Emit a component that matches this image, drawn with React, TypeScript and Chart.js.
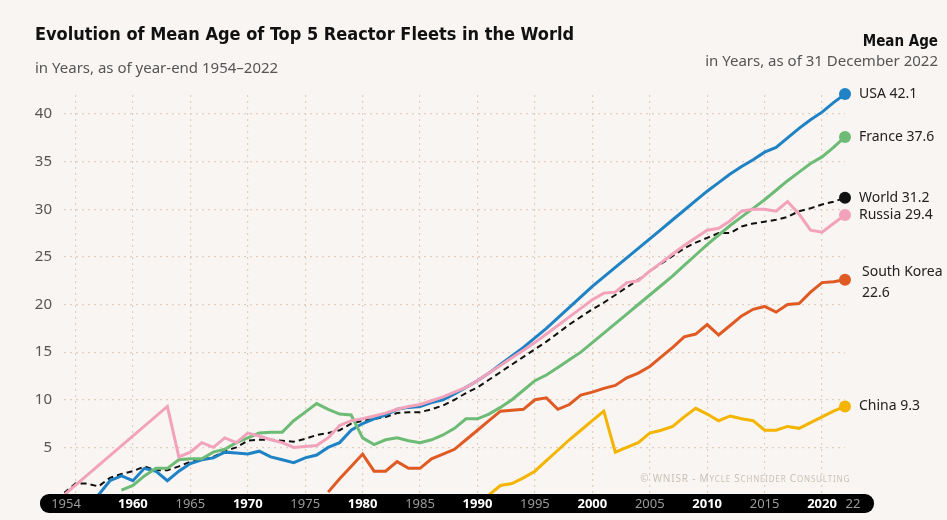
import React, { useEffect, useRef } from "react";
import { Chart, registerables } from "chart.js";
Chart.register(...registerables);

const usaStart = 1957;
const usa = [0, 1.5, 2, 1.5, 2.8, 2.5, 1.5, 2.5, 3.3, 3.7, 3.9, 4.5, 4.4, 4.3, 4.6, 4.0, 3.7, 3.4, 3.9, 4.2, 5, 5.5, 6.8, 7.5, 8.0, 8.4, 9.0, 9.2, 9.3, 9.7, 10.0, 10.6, 11.3, 12, 12.8, 13.7, 14.6, 15.5, 16.5, 17.5, 18.6, 19.7, 20.8, 21.9, 22.9, 23.9, 24.9, 25.9, 26.9, 27.9, 28.9, 29.9, 30.9, 31.9, 32.8, 33.7, 34.5, 35.2, 36.0, 36.5, 37.5, 38.5, 39.4, 40.2, 41.2, 42.1];
const franceStart = 1959;
const france = [0.5, 1, 2, 2.8, 2.8, 3.7, 3.8, 3.8, 4.5, 4.8, 5.5, 6, 6.5, 6.6, 6.6, 7.8, 8.7, 9.6, 9.0, 8.5, 8.4, 6, 5.3, 5.8, 6.0, 5.7, 5.5, 5.8, 6.3, 7, 8, 8, 8.5, 9.2, 10, 11, 12, 12.6, 13.4, 14.2, 15, 16, 17, 18, 19, 20, 21, 22, 23, 24.1, 25.2, 26.3, 27.3, 28.3, 29.2, 30.1, 31, 32, 33, 33.9, 34.8, 35.5, 36.5, 37.6];
const worldStart = 1954;
const world = [0.2, 1.2, 1.2, 0.9, 1.8, 2.2, 2.5, 3, 2.6, 2.6, 3.0, 3.5, 3.7, 4, 4.6, 5.0, 5.7, 5.8, 5.8, 5.7, 5.6, 5.9, 6.3, 6.5, 6.8, 7.5, 7.8, 8.0, 8.2, 8.6, 8.7, 8.7, 9.0, 9.4, 10, 10.7, 11.3, 12.1, 12.9, 13.7, 14.5, 15.3, 16.1, 17, 17.9, 18.7, 19.5, 20.2, 21, 21.8, 22.6, 23.5, 24.3, 25.1, 25.9, 26.5, 27, 27.5, 27.5, 28.2, 28.5, 28.7, 28.9, 29.2, 29.8, 30.1, 30.5, 30.8, 31.2];
const russiaYears = [1954, 1963, 1964, 1965, 1966, 1967, 1968, 1969, 1970, 1971, 1972, 1973, 1974, 1975, 1976, 1977, 1978, 1979, 1980, 1981, 1982, 1983, 1984, 1985, 1986, 1987, 1988, 1989, 1990, 1991, 1992, 1993, 1994, 1995, 1996, 1997, 1998, 1999, 2000, 2001, 2002, 2003, 2004, 2005, 2006, 2007, 2008, 2009, 2010, 2011, 2012, 2013, 2014, 2015, 2016, 2017, 2018, 2019, 2020, 2021, 2022];
const russia = [0, 9.3, 4, 4.5, 5.5, 5, 6, 5.5, 6.5, 6.2, 5.8, 5.5, 5.0, 5.1, 5.2, 6, 7.3, 7.8, 8, 8.3, 8.6, 9.0, 9.3, 9.5, 9.9, 10.3, 10.8, 11.3, 12, 12.8, 13.6, 14.4, 15.2, 16, 16.9, 17.8, 18.7, 19.6, 20.5, 21.2, 21.3, 22.3, 22.5, 23.5, 24.4, 25.3, 26.2, 27.0, 27.8, 28, 28.8, 29.8, 30, 30, 29.8, 30.8, 29.5, 27.8, 27.6, 28.5, 29.4];
const koreaStart = 1977;
const korea = [0.3, 1.7, 3, 4.3, 2.5, 2.5, 3.5, 2.8, 2.8, 3.8, 4.3, 4.8, 5.8, 6.8, 7.8, 8.8, 8.9, 9, 10, 10.2, 9, 9.5, 10.5, 10.8, 11.2, 11.5, 12.3, 12.8, 13.5, 14.5, 15.5, 16.6, 16.9, 17.9, 16.8, 17.8, 18.8, 19.5, 19.8, 19.2, 20, 20.1, 21.3, 22.3, 22.4, 22.6];
const chinaStart = 1991;
const china = [0, 1, 1.2, 1.8, 2.5, 3.6, 4.7, 5.8, 6.8, 7.8, 8.8, 4.5, 5, 5.5, 6.5, 6.8, 7.2, 8.2, 9.1, 8.5, 7.8, 8.3, 8, 7.8, 6.8, 6.8, 7.2, 7, 7.6, 8.2, 8.8, 9.3];

const yTicks = [5, 10, 15, 20, 25, 30, 35, 40];
const xLabels = [
  { y: 1954, t: "1954", bold: false },
  { y: 1960, t: "1960", bold: true },
  { y: 1965, t: "1965", bold: false },
  { y: 1970, t: "1970", bold: true },
  { y: 1975, t: "1975", bold: false },
  { y: 1980, t: "1980", bold: true },
  { y: 1985, t: "1985", bold: false },
  { y: 1990, t: "1990", bold: true },
  { y: 1995, t: "1995", bold: false },
  { y: 2000, t: "2000", bold: true },
  { y: 2005, t: "2005", bold: false },
  { y: 2010, t: "2010", bold: true },
  { y: 2015, t: "2015", bold: false },
  { y: 2020, t: "2020", bold: true },
  { y: 2022, t: "22", bold: false },
];

const seq = (start: number, vals: number[]) => vals.map((v, i) => ({ x: start + i, y: v }));
const pts = (ys: number[], vals: number[]) => vals.map((v, i) => ({ x: ys[i], y: v }));

const series = [
  { name: "China", lines: ["China 9.3"], color: "#f4b400", data: seq(chinaStart, china), dash: [] as number[] },
  { name: "South Korea", lines: ["South Korea", "22.6"], color: "#e05a24", data: seq(koreaStart, korea), dash: [] },
  { name: "Russia", lines: ["Russia 29.4"], color: "#f2a3bb", data: pts(russiaYears, russia), dash: [] },
  { name: "France", lines: ["France 37.6"], color: "#6dbb75", data: seq(franceStart, france), dash: [] },
  { name: "USA", lines: ["USA 42.1"], color: "#1f82c4", data: seq(usaStart, usa), dash: [] },
  { name: "World", lines: ["World 31.2"], color: "#111111", data: seq(worldStart, world), dash: [6, 4] },
];

const FONT = "'Noto Sans', 'DejaVu Sans', sans-serif";

function smallCaps(ctx: CanvasRenderingContext2D, text: string, right: number, y: number) {
  const big = "10px " + FONT, small = "8px " + FONT;
  const parts: { s: string; f: string }[] = [];
  for (const ch of text) {
    const isUpper = ch === ch.toUpperCase();
    parts.push({ s: isUpper ? ch : ch.toUpperCase(), f: isUpper ? big : small });
  }
  let w = 0;
  parts.forEach((p) => { ctx.font = p.f; w += ctx.measureText(p.s).width + 0.8; });
  let x = right - w;
  ctx.textAlign = "left";
  parts.forEach((p) => { ctx.font = p.f; ctx.fillText(p.s, x, y); x += ctx.measureText(p.s).width + 0.8; });
}

export default function App() {
  const ref = useRef<HTMLCanvasElement>(null);
  useEffect(() => {
    const deco = {
      id: "deco",
      beforeDraw(c: any) {
        const ctx = c.ctx;
        ctx.save();
        ctx.fillStyle = "#f8f5f3";
        ctx.fillRect(0, 0, c.width, c.height);
        ctx.restore();
      },
      afterDraw(c: any) {
        const ctx = c.ctx;
        const xs = c.scales.x, ys = c.scales.y;
        ctx.save();
        ctx.fillStyle = "#111";
        ctx.textBaseline = "alphabetic";
        ctx.textAlign = "left";
        ctx.font = "bold 18px 'DejaVu Sans Condensed', 'DejaVu Sans', sans-serif";
        ctx.fillText("Evolution of Mean Age of Top 5 Reactor Fleets in the World", 35, 40);
        ctx.fillStyle = "#555";
        ctx.font = "15px " + FONT;
        ctx.fillText("in Years, as of year-end 1954\u20132022", 35, 73);
        ctx.textAlign = "right";
        ctx.fillStyle = "#111";
        ctx.font = "bold 15px 'DejaVu Sans Condensed', 'DejaVu Sans', sans-serif";
        ctx.fillText("Mean Age", 938, 46);
        ctx.fillStyle = "#555";
        ctx.font = "15px " + FONT;
        ctx.fillText("in Years, as of 31 December 2022", 938, 66);
        ctx.fillStyle = "#555";
        ctx.font = "15px " + FONT;
        ctx.textBaseline = "middle";
        yTicks.forEach((t) => ctx.fillText(String(t), 52, ys.getPixelForValue(t)));
        ctx.fillStyle = "#000";
        ctx.beginPath();
        (ctx as any).roundRect(40, 494, 834, 19, 9);
        ctx.fill();
        ctx.textAlign = "center";
        xLabels.forEach((l) => {
          ctx.font = (l.bold ? "bold 13px " : "13px ") + FONT;
          ctx.fillStyle = l.bold ? "#fff" : "#9a9a9a";
          let px = xs.getPixelForValue(l.y);
          if (l.t === "1954") px += 2;
          if (l.t === "22") px += 8;
          ctx.fillText(l.t, px, 504);
        });
        ctx.fillStyle = "#c9bfb4";
        ctx.textBaseline = "alphabetic";
        smallCaps(ctx, "\u00a9 WNISR - Mycle Schneider Consulting", 850, 482);
        ctx.textBaseline = "middle";
        series.forEach((s) => {
          const last = s.data[s.data.length - 1];
          const px = xs.getPixelForValue(last.x), py = ys.getPixelForValue(last.y);
          ctx.fillStyle = s.color;
          ctx.beginPath();
          ctx.arc(px, py, 6, 0, Math.PI * 2);
          ctx.fill();
          ctx.fillStyle = "#222";
          ctx.textAlign = "left";
          ctx.font = "14px " + FONT;
          if (s.lines.length === 2) {
            ctx.fillText(s.lines[0], px + 17, py - 8);
            ctx.fillText(s.lines[1], px + 17, py + 13);
          } else {
            ctx.fillText(s.lines[0], px + 14, py);
          }
        });
        ctx.restore();
      },
    };
    const gridOpt = { color: "#dfcfbf", lineWidth: 1.2, drawTicks: false };
    const chart = new Chart(ref.current!, {
      type: "line",
      data: {
        datasets: series.map((s) => ({
          label: s.name,
          data: s.data,
          borderColor: s.color,
          borderWidth: s.name === "World" ? 2 : 3,
          borderDash: s.dash,
          pointRadius: 0,
          tension: 0,
          fill: false,
        })),
      },
      options: {
        animation: false,
        responsive: false,
        layout: { padding: { left: 64, right: 102, top: 95, bottom: 25 } },
        plugins: { legend: { display: false }, tooltip: { enabled: false } },
        scales: {
          x: {
            type: "linear",
            min: 1954,
            max: 2022,
            afterBuildTicks: (ax: any) => {
              const t = [];
              for (let y = 1955; y <= 2020; y += 5) t.push({ value: y });
              ax.ticks = t;
            },
            ticks: { display: false },
            border: { display: false, dash: [2, 4] },
            grid: gridOpt,
          },
          y: {
            min: 0,
            max: 42,
            afterBuildTicks: (ax: any) => {
              ax.ticks = yTicks.map((v) => ({ value: v }));
            },
            ticks: { display: false },
            border: { display: false, dash: [2, 4] },
            grid: gridOpt,
          },
        },
      },
      plugins: [deco],
    });
    return () => chart.destroy();
  }, []);
  return (
    <div style={{ position: "fixed", left: 0, top: 0, width: 947, height: 520 }}>
      <canvas ref={ref} width={947} height={520} style={{ width: 947, height: 520 }} />
    </div>
  );
}
